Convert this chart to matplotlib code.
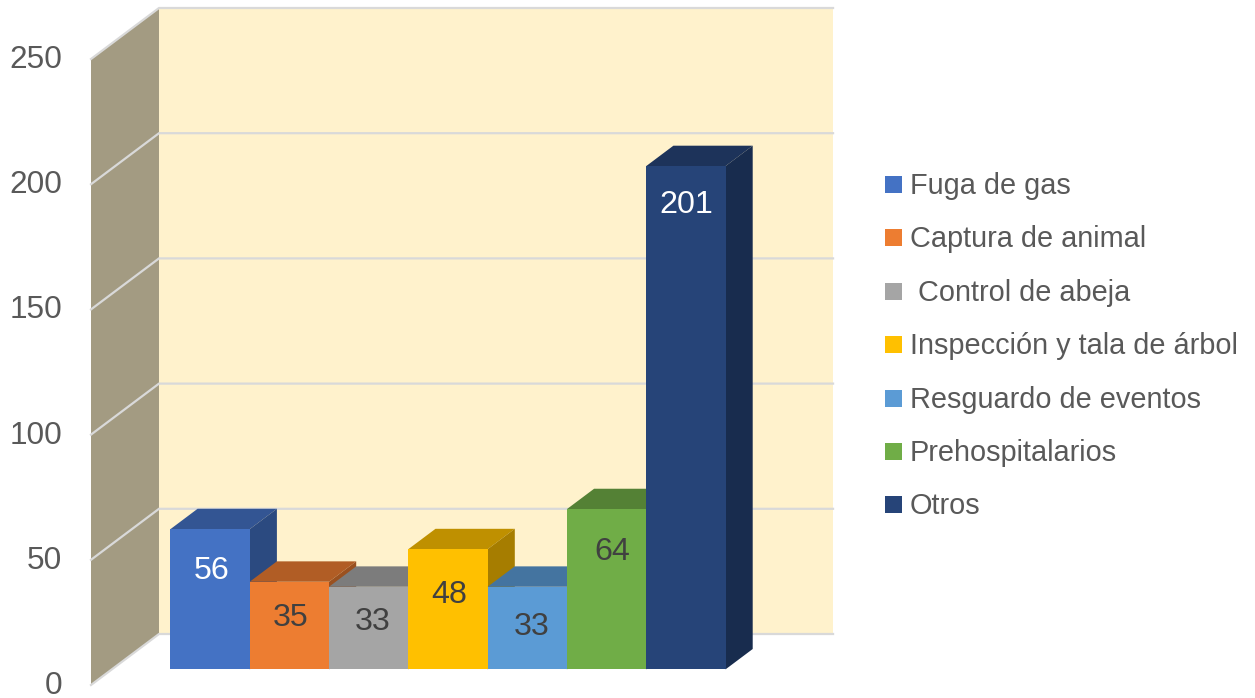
import matplotlib

matplotlib.use("Agg")
import matplotlib.pyplot as plt
from matplotlib.patches import Polygon, Rectangle

categories = [
    "Fuga de gas",
    "Captura de animal",
    " Control de abeja",
    "Inspección y tala de árbol",
    "Resguardo de eventos",
    "Prehospitalarios",
    "Otros",
]
values = [56, 35, 33, 48, 33, 64, 201]
y_ticks = [0, 50, 100, 150, 200, 250]
label_drop = [16.8, 14.6, 14.2, 18.3, 16.2, 17, 15.7]
label_shift = [1.5, 1.5, 4, 1.5, 4.5, 6, 0.5]  # pixels

front_colors = ["#4472C4", "#ED7D31", "#A5A5A5", "#FFC000", "#5B9BD5", "#70AD47", "#264478"]
top_colors = ["#335593", "#B15D25", "#7C7C7C", "#BF9000", "#4474A0", "#548135", "#1D335A"]
side_colors = ["#2B4A80", "#9A5120", "#6B6B6B", "#A67D00", "#3B6589", "#49702E", "#182C4E"]
label_colors = ["white", "#404040", "#404040", "#404040", "#404040", "#404040", "white"]

W, H = 1255, 698
PX_X = 79.3  # pixels per category
PX_Y = 2.504  # pixels per unit
DEPTH_X = 68 / PX_X
DEPTH_Y = 51 / PX_Y
FLOOR_W = 8.5
BAR_D0, BAR_D1 = 15.6 / 51, 36 / 51
BAR_X0 = 0.739
TEXT = "#595959"
GRID = "#D9D9D9"
FONT = "Liberation Sans"


def proj(x, y, d=0.0):
    return (x + d * DEPTH_X, y + d * DEPTH_Y)


fig = plt.figure(figsize=(W / 100, H / 100), dpi=100, facecolor="white")
ax = fig.add_axes([0, 0, 1, 1])
ax.set_xlim(-91 / PX_X, (W - 91) / PX_X)
ax.set_ylim(-(H - 685) / PX_Y, 685 / PX_Y)
ax.set_axis_off()

top = y_ticks[-1]
ax.add_patch(Polygon([proj(0, 0, 1), proj(FLOOR_W, 0, 1), proj(FLOOR_W, top, 1), proj(0, top, 1)],
                     fc="#FFF2CC", ec="none", zorder=1))
ax.add_patch(Polygon([proj(0, 0, 0), proj(0, 0, 1), proj(0, top, 1), proj(0, top, 0)],
                     fc="#A39B82", ec="none", zorder=1))

for t in y_ticks:
    xs, ys = zip(proj(0, t, 0), proj(0, t, 1), proj(FLOOR_W, t, 1))
    ax.plot(xs, ys, color=GRID, lw=1.6, zorder=2, solid_joinstyle="miter")
    ax.text(-29 / PX_X, t - 1 / PX_Y, str(t), ha="right", va="center", fontsize=22.7, color=TEXT, family=FONT)

for i, v in enumerate(values):
    x0, x1 = BAR_X0 + i, BAR_X0 + i + 1
    z = 3 + i
    ax.add_patch(Polygon([proj(x0, v, BAR_D0), proj(x0, v, BAR_D1), proj(x1, v, BAR_D1), proj(x1, v, BAR_D0)],
                         fc=top_colors[i], ec="none", zorder=z))
    ax.add_patch(Polygon([proj(x1, 0, BAR_D0), proj(x1, 0, BAR_D1), proj(x1, v, BAR_D1), proj(x1, v, BAR_D0)],
                         fc=side_colors[i], ec="none", zorder=z))
    ax.add_patch(Polygon([proj(x0, 0, BAR_D0), proj(x1, 0, BAR_D0), proj(x1, v, BAR_D0), proj(x0, v, BAR_D0)],
                         fc=front_colors[i], ec="none", zorder=z + 0.5))
    lx, ly = proj((x0 + x1) / 2 + label_shift[i] / PX_X, v - label_drop[i], BAR_D0)
    ax.text(lx, ly, str(v), ha="center", va="center", fontsize=23.2, color=label_colors[i], family=FONT, zorder=20)

# legend, laid out in pixels
for i, name in enumerate(categories):
    y = 184.5 + i * 53.4
    fig.add_artist(Rectangle((885 / W, 1 - (y + 8.5) / H), 17 / W, 17 / H, fc=front_colors[i], ec="none",
                             transform=fig.transFigure))
    fig.text(910 / W, 1 - (y + 1.5) / H, name, ha="left", va="center", fontsize=20.8, color=TEXT, family=FONT)

fig.savefig("out.png", dpi=100)
plt.close(fig)
